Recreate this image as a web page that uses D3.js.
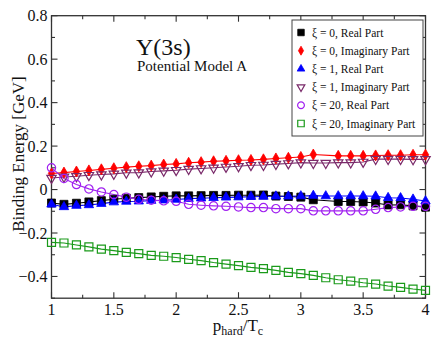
<!DOCTYPE html>
<html><head><meta charset="utf-8">
<script src="https://cdn.jsdelivr.net/npm/d3@7"></script>
<style>body{margin:0;background:#fff}svg{display:block}text{font-family:"Liberation Serif","DejaVu Serif",serif}</style>
</head><body><svg id="c" width="442" height="341"></svg>
<script>
const xValues = [1.0,1.1,1.2,1.3,1.4,1.5,1.6,1.7,1.8,1.9,2.0,2.1,2.2,2.3,2.4,2.5,2.6,2.7,2.8,2.9,3.0,3.1,3.2,3.3,3.4,3.5,3.6,3.7,3.8,3.9,4.0];
const xi0Real = [-0.062,-0.068,-0.063,-0.057,-0.051,-0.045,-0.040,-0.037,-0.034,-0.031,-0.029,-0.029,-0.028,-0.027,-0.027,-0.026,-0.026,-0.025,-0.030,-0.032,-0.035,-0.047,null,-0.055,-0.055,-0.057,-0.062,-0.071,-0.070,-0.075,-0.081];
const xi0Imag = [0.074,0.078,0.083,0.088,0.093,0.098,0.103,0.107,0.110,0.115,0.118,0.123,0.126,0.130,0.132,0.135,0.136,0.139,0.143,0.146,0.150,0.161,null,0.155,0.155,0.155,0.157,0.158,0.158,0.160,0.160];
const xi1Real = [-0.068,-0.080,-0.074,-0.071,-0.065,-0.058,-0.055,-0.054,-0.051,-0.049,-0.046,-0.042,-0.040,-0.038,-0.036,-0.035,-0.033,-0.032,-0.031,-0.031,-0.030,-0.028,-0.030,-0.030,-0.030,-0.030,-0.031,-0.038,-0.039,-0.045,-0.053];
const xi1Imag = [0.053,0.058,0.061,0.066,0.069,0.072,0.077,0.078,0.083,0.086,0.089,0.094,0.097,0.100,0.104,0.107,0.112,0.113,0.117,0.120,0.124,0.122,0.122,0.124,0.124,0.127,0.140,0.140,0.140,0.139,0.139];
const xi20Real = [0.100,0.051,0.023,0.003,-0.011,-0.023,-0.035,-0.045,-0.049,-0.052,-0.054,-0.068,-0.072,-0.075,-0.077,-0.080,-0.083,-0.083,-0.088,-0.088,-0.088,-0.098,-0.098,-0.098,-0.098,-0.098,-0.091,-0.083,-0.080,-0.077,-0.077];
const xi20Imag = [-0.243,-0.246,-0.255,-0.264,-0.274,-0.281,-0.289,-0.295,-0.303,-0.307,-0.313,-0.321,-0.327,-0.336,-0.343,-0.350,-0.358,-0.364,-0.372,-0.381,-0.387,-0.395,-0.406,-0.415,-0.421,-0.429,-0.435,-0.444,-0.450,-0.458,-0.464];
const xTicks = [1,1.5,2,2.5,3,3.5,4];
const yTicks = [-0.4,-0.2,0,0.2,0.4,0.6,0.8];
const legendLabels = ["ξ = 0, Real Part","ξ = 0, Imaginary Part","ξ = 1, Real Part","ξ = 1, Imaginary Part","ξ = 20, Real Part","ξ = 20, Imaginary Part"];

const series = [
  {vals: xi0Real, color:"#000000", sym:"square", fill:true},
  {vals: xi0Imag, color:"#ff0000", sym:"diamond", fill:true},
  {vals: xi1Real, color:"#0000ff", sym:"triUp", fill:true},
  {vals: xi1Imag, color:"#7a2a6a", sym:"triDown", fill:false},
  {vals: xi20Real, color:"#a020f0", sym:"circle", fill:false},
  {vals: xi20Imag, color:"#1a9a1a", sym:"square", fill:false}
];

const svg = d3.select("#c");
const L=51.5, R=425.5, T=15.7, B=298.2;
const x = d3.scaleLinear().domain([1,4]).range([L,R]);
const y = d3.scaleLinear().domain([-0.5,0.8]).range([B,T]);
const axColor="#333";

svg.append("rect").attr("x",L).attr("y",T).attr("width",R-L).attr("height",B-T)
  .attr("fill","none").attr("stroke",axColor).attr("stroke-width",1.3);

const xMinor = d3.range(1,4.001,0.25);
const yMinor = d3.range(-0.5,0.801,0.1);
const tg = svg.append("g").attr("stroke",axColor).attr("stroke-width",1.1);
xMinor.forEach(v=>{
  const major = Math.abs(v*2-Math.round(v*2))<1e-6;
  const len = major?6:3.5;
  tg.append("line").attr("x1",x(v)).attr("x2",x(v)).attr("y1",B).attr("y2",B-len);
  tg.append("line").attr("x1",x(v)).attr("x2",x(v)).attr("y1",T).attr("y2",T+len);
});
yMinor.forEach(v=>{
  const major = Math.abs(v*5-Math.round(v*5))<1e-6;
  const len = major?6:3.5;
  tg.append("line").attr("y1",y(v)).attr("y2",y(v)).attr("x1",L).attr("x2",L+len);
  tg.append("line").attr("y1",y(v)).attr("y2",y(v)).attr("x1",R).attr("x2",R-len);
});
xTicks.forEach(v=>{
  svg.append("text").attr("x",x(v)).attr("y",315).attr("text-anchor","middle")
    .attr("font-size",16).attr("fill","#111").text(d3.format("")(v));
});
yTicks.forEach(v=>{
  svg.append("text").attr("x",47.5).attr("y",y(v)).attr("dy","0.35em").attr("text-anchor","end")
    .attr("font-size",16).attr("fill","#111").text(v===0?"0":d3.format(".1f")(v));
});

svg.append("text").attr("transform","translate(24,154) rotate(-90)").attr("text-anchor","middle")
  .attr("font-size",17).attr("fill","#111").text("Binding Energy [GeV]");
const xt = svg.append("text").attr("x",238).attr("y",331).attr("text-anchor","middle").attr("font-size",17).attr("fill","#111");
xt.append("tspan").text("p");
xt.append("tspan").attr("font-size",12).attr("dy",4).text("hard");
xt.append("tspan").attr("dy",-4).text("/T");
xt.append("tspan").attr("font-size",12).attr("dy",4).text("c");

svg.append("text").attr("x",136).attr("y",55).attr("font-size",24).attr("fill","#111").text("Υ(3s)");
svg.append("text").attr("x",137).attr("y",71).attr("font-size",15).attr("fill","#111").text("Potential Model A");

function symPath(sym, s){
  if(sym==="square") return d3.symbol(d3.symbolSquare, s*s)();
  if(sym==="diamond") return d3.symbol(d3.symbolDiamond, s*s*0.55)();
  if(sym==="circle") return d3.symbol(d3.symbolCircle, s*s*0.85)();
  return d3.symbol(d3.symbolTriangle, s*s*0.6)();
}
function drawSym(g, sd, cx, cy, s){
  const rot = sd.sym==="triDown"?180:0;
  g.append("path").attr("d",symPath(sd.sym,s))
    .attr("transform",`translate(${cx},${cy}) rotate(${rot})`)
    .attr("fill",sd.fill?sd.color:"none").attr("stroke",sd.color).attr("stroke-width",sd.fill?0.8:1.2);
}

const line = d3.line().x(d=>x(d[0])).y(d=>y(d[1]));
const plot = svg.append("g");
series.forEach(sd=>{
  const pts = xValues.map((xv,i)=>[xv,sd.vals[i]]).filter(p=>p[1]!==null);
  plot.append("path").attr("d",line(pts)).attr("fill","none").attr("stroke",sd.color).attr("stroke-width",1.1);
});
series.forEach(sd=>{
  const g = plot.append("g");
  xValues.forEach((xv,i)=>{ if(sd.vals[i]!==null) drawSym(g, sd, x(xv), y(sd.vals[i]), 8); });
});

const lg = svg.append("g");
lg.append("rect").attr("x",292).attr("y",20).attr("width",131).attr("height",116)
  .attr("fill","#fff").attr("stroke","#444").attr("stroke-width",1);
series.forEach((sd,i)=>{
  const cy = 32.5 + i*18.2;
  drawSym(lg, sd, 301, cy, 6.5);
  lg.append("text").attr("x",312).attr("y",cy).attr("dy","0.35em").attr("font-size",11.5).attr("fill","#111").text(legendLabels[i]);
});
</script></body></html>
